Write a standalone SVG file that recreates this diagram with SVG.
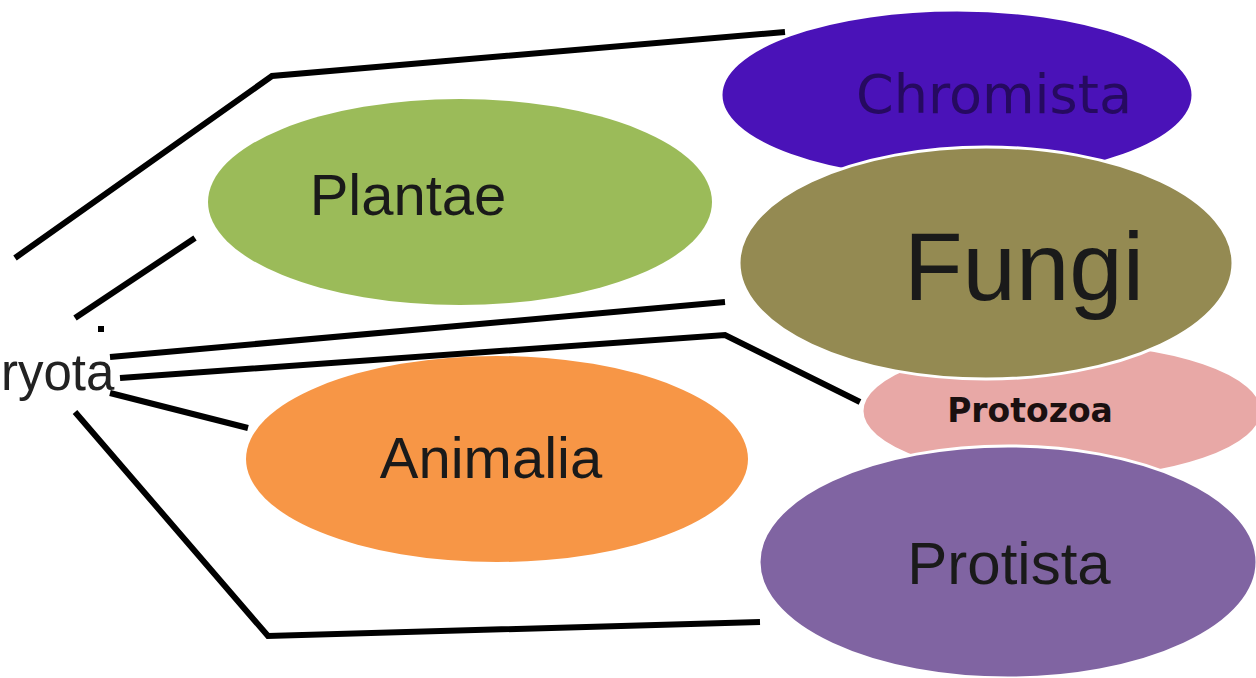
<svg xmlns="http://www.w3.org/2000/svg" width="1256" height="678" viewBox="0 0 1256 678">
<style>
.node{stroke:#ffffff;stroke-width:3}
.lbl{font-family:"Liberation Sans",Arial,sans-serif;text-anchor:middle;fill:#1a1a1a}
.dv{font-family:"DejaVu Sans",sans-serif;text-anchor:middle}
.conn{fill:none;stroke:#000;stroke-width:6;stroke-linejoin:miter;stroke-linecap:butt}
</style>
<rect width="1256" height="678" fill="#ffffff"/>
<g id="chromista">
<ellipse class="node" cx="957" cy="95" rx="236" ry="85" fill="#4a12b8"/>
<text class="dv" x="994" y="113" font-size="54" fill="#260a60">Chromista</text>
</g>
<g id="protozoa">
<ellipse class="node" cx="1062" cy="411" rx="200" ry="68" fill="#e8a8a6"/>
<text class="dv" x="1030" y="422" font-size="33" font-weight="bold" fill="#1a1010">Protozoa</text>
</g>
<g id="fungi">
<ellipse class="node" cx="986" cy="263" rx="247" ry="116" fill="#948a52"/>
<text class="lbl" x="1024" y="300" font-size="96" fill="#0e0e0e">Fungi</text>
</g>
<g id="protista">
<ellipse class="node" cx="1008" cy="562" rx="249" ry="116" fill="#8064a2"/>
<text class="lbl" x="1009" y="584" font-size="60" fill="#14102a">Protista</text>
</g>
<g id="plantae">
<ellipse cx="460" cy="202" rx="252" ry="103" fill="#9bbb59"/>
<text class="lbl" x="408" y="215" font-size="58" fill="#16200e">Plantae</text>
</g>
<g id="animalia">
<ellipse cx="497" cy="459" rx="251" ry="103" fill="#f79646"/>
<text class="lbl" x="491" y="478" font-size="58" fill="#1c1208">Animalia</text>
</g>
<g id="eukaryota">
<text x="1" y="390" font-family="'Liberation Sans',Arial,sans-serif" font-size="51" fill="#222">ryota</text>
</g>
<g id="connectors">
<polyline class="conn" points="15,258 272,76 785,32" stroke-width="5"/>
<line class="conn" x1="75" y1="318" x2="195" y2="238"/>
<line class="conn" x1="98" y1="329" x2="104" y2="329" stroke-width="2"/>
<line class="conn" x1="110" y1="357" x2="725" y2="302"/>
<polyline class="conn" points="120,378 725,335 860,402"/>
<line class="conn" x1="110" y1="393" x2="248" y2="428"/>
<polyline class="conn" points="75,412 268,636 760,622"/>
</g>
</svg>
